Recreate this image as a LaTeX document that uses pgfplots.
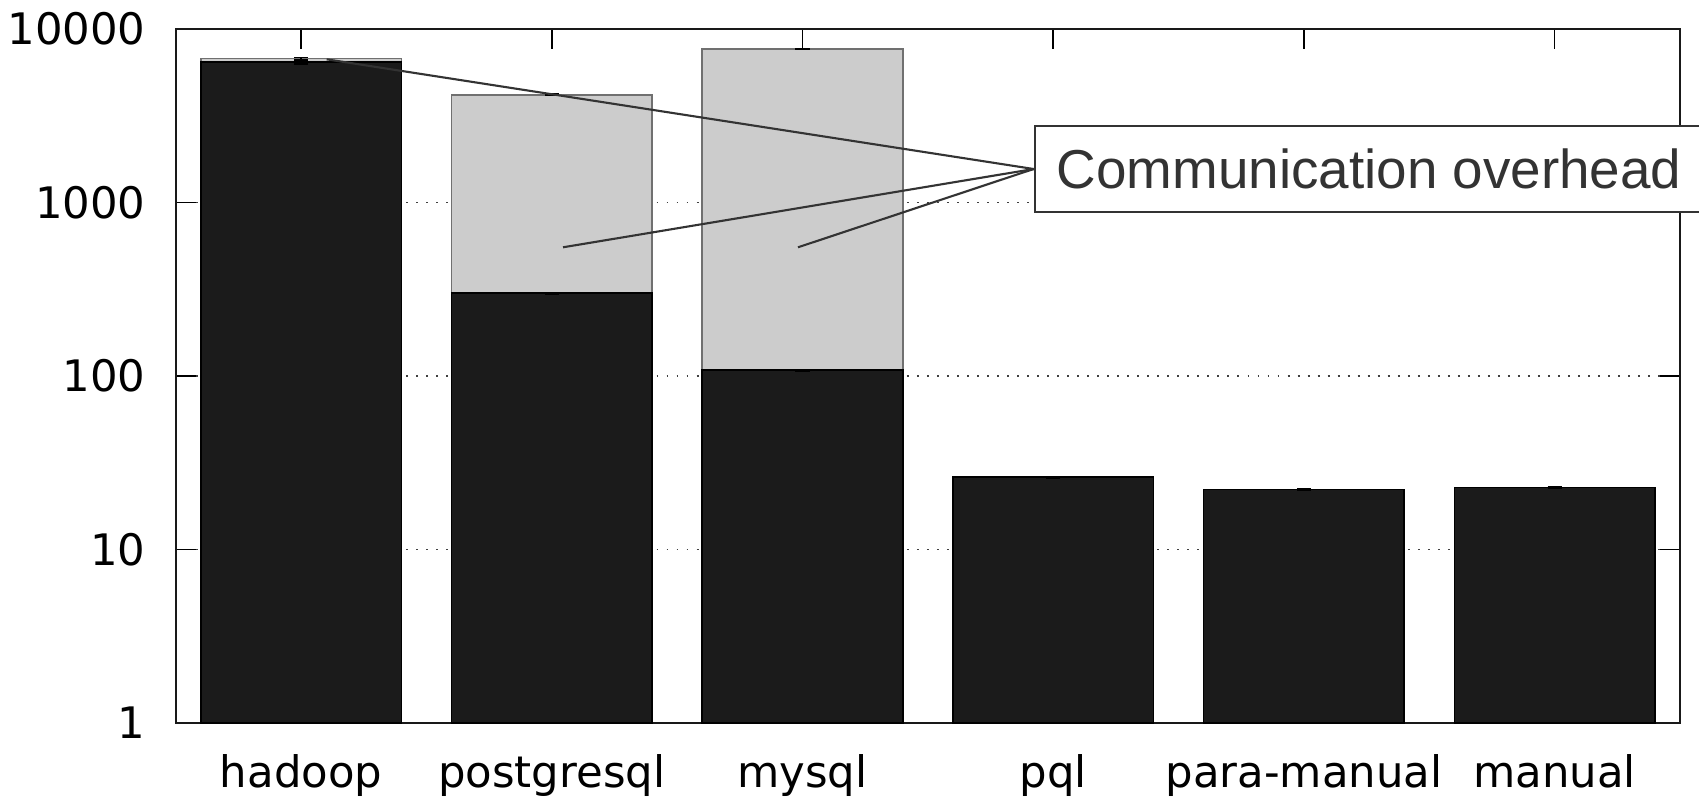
\documentclass[border=0pt]{standalone}
\usepackage{pgfplots}
\pgfplotsset{compat=1.18}
\usepackage{pgfplotstable}
\usepackage{fontspec}
\setmainfont{DejaVu Sans}
\newfontfamily\annfont{Liberation Sans}
\definecolor{barblack}{HTML}{1B1B1B}
\definecolor{bargrey}{HTML}{CCCCCC}
\definecolor{bargreyedge}{HTML}{707070}
\definecolor{txtgrey}{HTML}{333333}

\pgfplotstableread{
x total err
0 6745 130
1 4181 40
2 7668 60
}\totaltable

\pgfplotstableread{
x compute err
0 6479 200
1 300 3
2 108 1
3 26.1 0.2
4 22.2 0.2
5 22.8 0.2
}\computetable

\begin{document}
\begin{tikzpicture}
\begin{axis}[
  scale only axis,
  width=15.043cm, height=6.94cm,
  ymode=log, log basis y=10,
  ymin=1, ymax=10000,
  xmin=-0.5, xmax=5.5,
  xtick={0,1,2,3,4,5},
  xticklabels={hadoop,postgresql,mysql,pql,para-manual,manual},
  ytick={1,10,100,1000,10000},
  yticklabels={1,10,100,1000,10000},
  tick align=inside,
  xtick pos=both, ytick pos=both,
  major tick length=0.2cm, minor tick length=0.1cm,
  minor tick style={black!70, line width=0.4pt},
  major tick style={black, line width=0.45pt},
  ymajorgrids,
  major grid style={black!75, line width=0.55pt, dash pattern=on 0.55pt off 2.3pt},
  axis line style={black!90, line width=0.6pt},
  tick label style={font=\fontsize{12.35}{14}\selectfont},
  yticklabel style={anchor=east, inner sep=0pt, xshift=-0.295cm},
  xticklabel style={anchor=base, inner sep=0pt, yshift=-0.64cm},
  log origin=0,
]
\addplot[ybar, bar width=0.8, bar shift=0pt, fill=bargrey, draw=bargreyedge, line width=0.45pt,
  error bars/.cd, y dir=both, y explicit,
  error bar style={black, line width=0.5pt}]
  table[x=x, y=total, y error=err] {\totaltable};
\addplot[ybar, bar width=0.8, bar shift=0pt, fill=barblack, draw=black, line width=0.45pt,
  error bars/.cd, y dir=both, y explicit,
  error bar style={black, line width=0.5pt}]
  table[x=x, y=compute, y error=err] {\computetable};
\coordinate (boxpt) at (axis cs:2.922,1560);
\draw[txtgrey, line width=0.6pt] (axis cs:0.102,6690) -- (boxpt);
\draw[txtgrey, line width=0.6pt] (axis cs:1.045,552) -- (boxpt);
\draw[txtgrey, line width=0.6pt] (axis cs:1.982,552) -- (boxpt);
\coordinate (SW) at (rel axis cs:0,0);
\coordinate (NE) at (rel axis cs:1,1);
\end{axis}
\node[anchor=west, draw=txtgrey, line width=0.6pt, fill=white, text=txtgrey,
  minimum height=0.86cm, inner xsep=0.22cm, inner ysep=0pt,
  font=\annfont\fontsize{15.6}{18}\selectfont] at (boxpt) {Communication overhead};
\pgfresetboundingbox
\path ([xshift=-1.757cm,yshift=-0.73cm]SW) rectangle ([xshift=0.19cm,yshift=0.29cm]NE);
\end{tikzpicture}
\end{document}
